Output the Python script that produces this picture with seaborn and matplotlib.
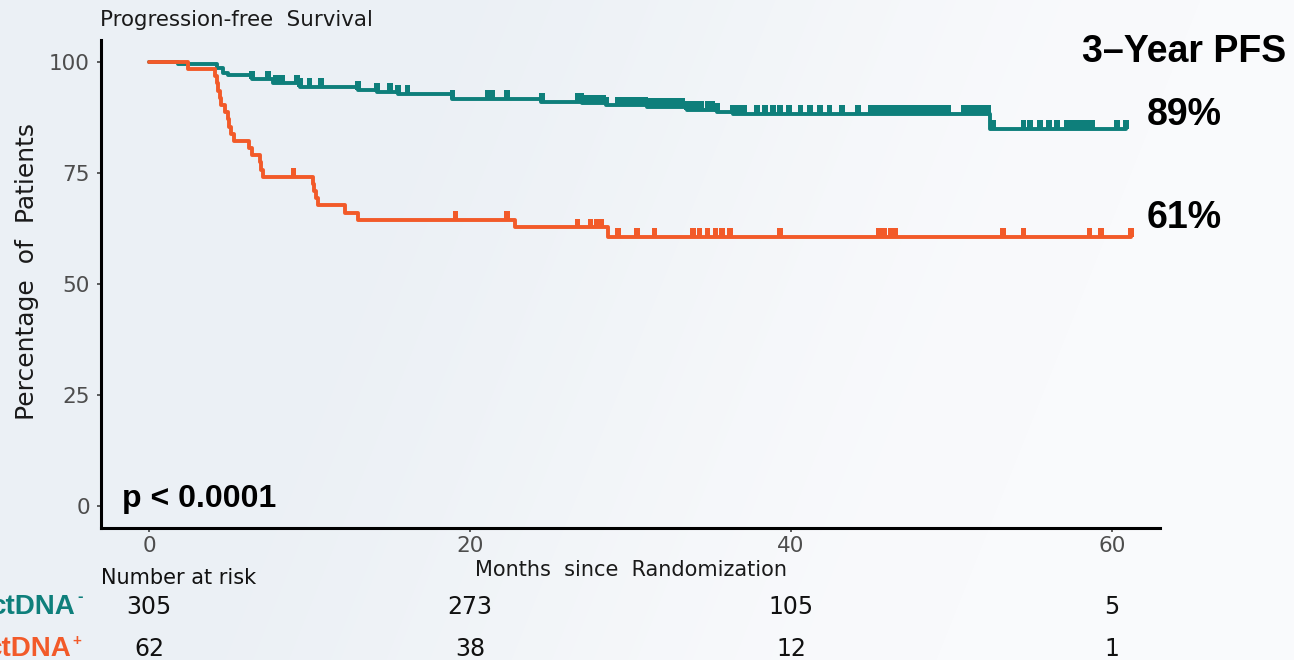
import numpy as np
import pandas as pd
import matplotlib
matplotlib.use("Agg")
import matplotlib.pyplot as plt
from matplotlib.path import Path
from matplotlib.transforms import blended_transform_factory
import seaborn as sns

# Kaplan-Meier step estimates: months since randomization -> % progression-free
neg_time = [0, 1.8, 4.2, 4.6, 4.9, 6.4, 7.7, 9.4, 13.0, 14.2, 15.5, 18.9,
            24.4, 27.0, 28.5, 31.0, 33.5, 35.4, 36.4, 52.4, 60.9]
neg_pct = [100, 99.7, 98.6, 97.6, 97.1, 96.1, 95.2, 94.4, 93.8, 93.3, 92.8, 91.8,
           91.1, 90.7, 90.3, 89.9, 89.2, 88.8, 88.3, 84.9, 84.9]

pos_time = [0, 2.4, 4.1, 4.2, 4.3, 4.4, 4.5, 4.7, 4.9, 5.0, 5.1, 5.3, 6.2, 6.4,
            6.9, 7.0, 7.1, 10.2, 10.3, 10.4, 10.5, 12.2, 13.0, 22.8, 28.6, 61.2]
pos_pct = [100, 98.4, 96.8, 95.2, 93.5, 91.9, 90.3, 88.7, 87.1, 85.5, 83.9, 82.3,
           80.6, 79.0, 77.4, 75.8, 74.2, 72.6, 71.0, 69.4, 67.7, 66.1, 64.5,
           62.8, 60.7, 60.7]

# Censoring times (months)
neg_censor = [6.4, 7.4, 7.9, 8.3, 9.2, 9.4, 10.0, 10.7, 13.0, 14.2, 15.0, 15.5,
              16.1, 18.9, 21.1, 21.4, 22.3, 24.5,
              26.7, 26.9, 27.2, 27.4, 27.7, 27.9, 28.1, 28.3, 28.5,
              29.2, 29.4, 29.7, 29.9, 30.2, 30.4, 30.6, 30.9, 31.1, 31.4, 31.7,
              32.0, 32.3, 32.6, 32.9, 33.2, 33.5, 33.8, 34.1, 34.4, 34.8, 35.1,
              35.4, 36.4, 36.6, 36.9, 37.1, 37.9, 38.4, 38.9, 39.3, 39.9, 40.6,
              41.2, 41.8, 42.4, 43.2, 44.2,
              45.0, 45.3, 45.5, 45.8, 46.0, 46.3, 46.5, 46.8, 47.0, 47.3, 47.5,
              47.8, 48.0, 48.3, 48.5, 48.8, 49.0, 49.3, 49.5, 49.8,
              50.8, 51.0, 51.3, 51.5, 51.8, 52.0, 52.3,
              52.6, 54.5, 54.9, 55.5, 56.1, 56.6, 57.2, 57.5, 57.7, 58.0, 58.3,
              58.6, 58.8, 60.3, 60.9]
pos_censor = [9.0, 19.1, 22.3, 26.7, 27.5, 27.9, 28.2, 29.2, 30.4, 31.5, 33.9,
              34.3, 34.8, 35.3, 35.7, 36.2, 39.3, 45.5, 45.8, 46.2, 46.5, 53.2,
              54.5, 58.6, 59.3, 61.2]

groups = ["ctDNA\u2212", "ctDNA+"]
colors = ["#0E7F7B", "#F25A29"]

risk_months = [0, 20, 40, 60]
risk_neg = [305, 273, 105, 5]
risk_pos = [62, 38, 12, 1]

x_ticks = [0, 20, 40, 60]
y_ticks = [0, 25, 50, 75, 100]

pfs_3yr = ["89%", "61%"]
p_text = "p < 0.0001"


def value_at(times, pcts, t):
    idx = np.searchsorted(times, t, side="right") - 1
    return np.asarray(pcts)[idx]


curves = pd.concat([
    pd.DataFrame({"month": neg_time, "pct": neg_pct, "group": groups[0]}),
    pd.DataFrame({"month": pos_time, "pct": pos_pct, "group": groups[1]}),
], ignore_index=True)

censors = pd.concat([
    pd.DataFrame({"month": neg_censor,
                  "pct": value_at(neg_time, neg_pct, neg_censor),
                  "group": groups[0]}),
    pd.DataFrame({"month": pos_censor,
                  "pct": value_at(pos_time, pos_pct, pos_censor),
                  "group": groups[1]}),
], ignore_index=True)

sns.set_theme(style="white")
plt.rcParams["font.family"] = ["DejaVu Sans"]

W, H = 1294, 660
fig = plt.figure(figsize=(W / 100, H / 100), dpi=100)


def fx(px):
    return px / W


def fy(py):
    return 1 - py / H


# Soft diagonal backdrop
bg = fig.add_axes([0, 0, 1, 1], zorder=-10)
xs = np.arange(W)[None, :]
ys = np.arange(H)[:, None]
t = np.clip((xs + 0.4 * ys - 350) / 850.0, 0, 1)
t = t * t * (3 - 2 * t)
c0 = np.array([235, 240, 245]) / 255
c1 = np.array([249, 250, 252]) / 255
grad = c0[None, None, :] * (1 - t[..., None]) + c1[None, None, :] * t[..., None]
bg.imshow(grad, aspect="auto", extent=[0, 1, 0, 1], interpolation="bilinear")
bg.axis("off")

ax = fig.add_axes([fx(101), fy(528), (1160 - 101) / W, (528 - 40) / H])
ax.patch.set_alpha(0)

palette = dict(zip(groups, colors))
sns.lineplot(data=curves, x="month", y="pct", hue="group", hue_order=groups,
             palette=palette, drawstyle="steps-post", estimator=None, sort=False,
             linewidth=2.8, legend=False, ax=ax, zorder=3)

# Censor marks: short bars rising from the curve
tick_marker = Path([(-0.33, 0), (0.33, 0), (0.33, 1), (-0.33, 1), (-0.33, 0)],
                   [Path.MOVETO, Path.LINETO, Path.LINETO, Path.LINETO, Path.CLOSEPOLY])
sns.scatterplot(data=censors, x="month", y="pct", hue="group", hue_order=groups,
                palette=palette, marker=tick_marker, s=157, linewidth=0,
                edgecolor="none", legend=False, ax=ax, zorder=3)

ax.set_xlim(-3, 63)
ax.set_ylim(-5, 105)
ax.set_xticks(x_ticks)
ax.set_yticks(y_ticks)
ax.set_xlabel("")
ax.set_ylabel("")
for side in ("top", "right"):
    ax.spines[side].set_visible(False)
for side in ("left", "bottom"):
    ax.spines[side].set_linewidth(2.2)
    ax.spines[side].set_color("black")
ax.tick_params(axis="both", which="major", length=3, width=1.1, color="#333333",
               labelsize=15.5, labelcolor="#4D4D4D", left=True, bottom=True)
ax.tick_params(axis="y", pad=5)
ax.tick_params(axis="x", pad=3)

# Titles and axis labels
fig.text(fx(100), fy(26), "Progression-free  Survival", fontsize=15.4,
         ha="left", va="baseline", color="#1A1A1A")
fig.text(fx(27), fy(271), "Percentage  of  Patients", fontsize=18, rotation=90,
         ha="center", va="center", color="#1A1A1A")
fig.text(fx(631), fy(576), "Months  since  Randomization", fontsize=15,
         ha="center", va="baseline", color="#1A1A1A")

bold = dict(family=["Liberation Sans", "DejaVu Sans"], fontweight="bold")
fig.text(fx(1082), fy(61.7), "3\u2013Year PFS", fontsize=27, ha="left",
         va="baseline", color="black", **bold)
fig.text(fx(1147), fy(125), pfs_3yr[0], fontsize=27, ha="left", va="baseline",
         color="black", **bold)
fig.text(fx(1147), fy(228.3), pfs_3yr[1], fontsize=27, ha="left", va="baseline",
         color="black", **bold)
fig.text(fx(122), fy(506.7), p_text, fontsize=23, ha="left", va="baseline",
         color="black", **bold)

# Number-at-risk table
fig.text(fx(101), fy(584), "Number at risk", fontsize=15, ha="left",
         va="baseline", color="#111111")
row_tr = blended_transform_factory(ax.transData, fig.transFigure)
for m, n_neg, n_pos in zip(risk_months, risk_neg, risk_pos):
    ax.text(m, fy(614), str(n_neg), transform=row_tr, fontsize=17, ha="center",
            va="baseline", color="#111111", clip_on=False)
    ax.text(m, fy(656.5), str(n_pos), transform=row_tr, fontsize=17, ha="center",
            va="baseline", color="#111111", clip_on=False)

fig.text(fx(76), fy(614), "ctDNA", fontsize=20, ha="right", va="baseline",
         color=colors[0], **bold)
fig.text(fx(77), fy(596), "-", fontsize=12, ha="left", va="center",
         color=colors[0], **bold)
fig.text(fx(72), fy(656.5), "ctDNA", fontsize=20, ha="right", va="baseline",
         color=colors[1], **bold)
fig.text(fx(72.5), fy(641), "+", fontsize=11, ha="left", va="center",
         color=colors[1], **bold)

fig.savefig("out.png", dpi=100)
